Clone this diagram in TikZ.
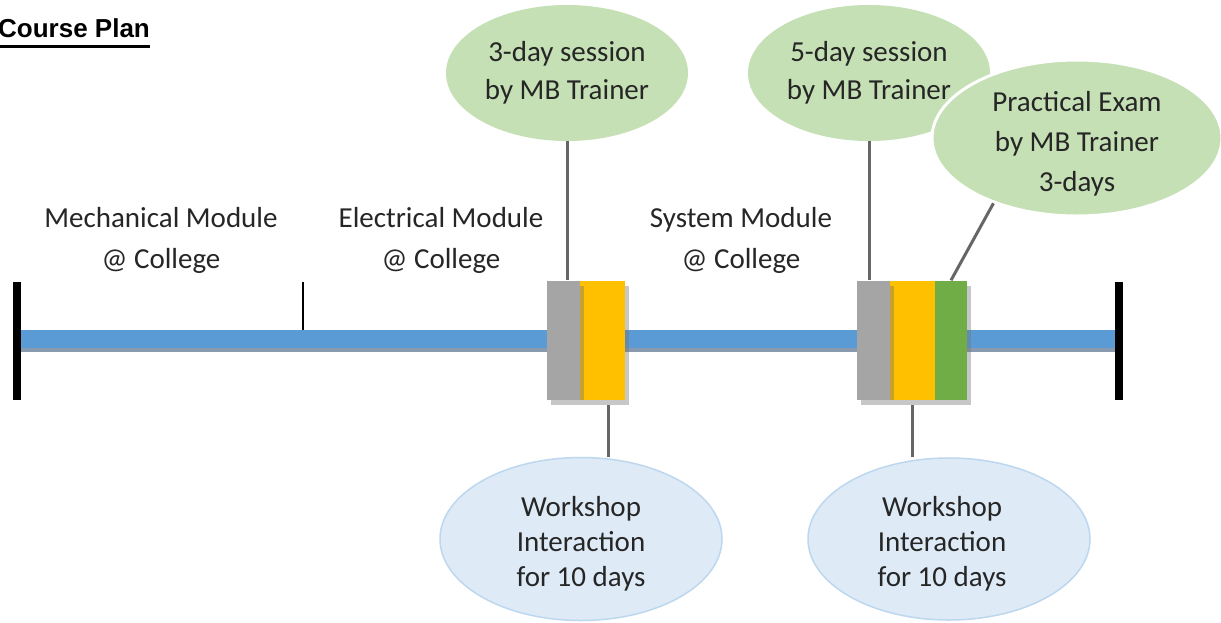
\documentclass[tikz,border=0pt]{standalone}
\usepackage{fontspec}
\setmainfont{Carlito}
\newfontfamily\titlefont{Liberation Sans}
\usetikzlibrary{shapes.geometric,shadows,calc}
\definecolor{txt}{HTML}{262626}
\definecolor{barblue}{HTML}{5B9BD5}
\definecolor{barshade}{HTML}{8A9AAE}
\definecolor{greyc}{HTML}{A5A5A5}
\definecolor{yellowc}{HTML}{FFC000}
\definecolor{greenc}{HTML}{70AD47}
\definecolor{ellgreen}{HTML}{C5E0B4}
\definecolor{ellblue}{HTML}{DEEBF7}
\definecolor{ellblueedge}{HTML}{BDD7EE}
\definecolor{connc}{HTML}{666666}
\tikzset{
  blockbox/.style={draw=none, inner sep=0pt, minimum height=119pt,
    drop shadow={shadow xshift=4pt, shadow yshift=-5pt, opacity=0.4, fill=black!55}},
  greenell/.style={ellipse, fill=ellgreen, inner sep=0pt, align=center,
    font=\fontsize{29}{38}\selectfont},
  blueell/.style={ellipse, fill=ellblue, draw=ellblueedge, line width=1.5pt, inner sep=0pt},
  elltext/.style={align=center, inner sep=0pt, font=\fontsize{29}{35}\selectfont},
  modlabel/.style={align=center, inner sep=0pt, font=\fontsize{29}{41}\selectfont},
  conn/.style={draw=connc, line width=3pt},
  endbar/.style={fill=black, draw=none, inner sep=0pt, minimum width=8pt, minimum height=118pt}
}
\begin{document}
\begin{tikzpicture}[x=1pt, y=-1pt, text=txt]
\useasboundingbox (0,0) rectangle (1221,622);
\fill[white] (0,0) rectangle (1221,622);

% title
\node[anchor=base west, inner sep=0pt, text=black,
  font=\titlefont\bfseries\fontsize{26}{30}\selectfont] (title) at (-2,37) {Course Plan};
\draw[line width=3pt] ($(title.base west)+(0,9)$) -- ($(title.base east)+(0,9)$);

% timeline bar
\fill[barshade] (20,334) rectangle (1116,352);
\fill[barblue] (20,330) rectangle (1116,348);
\node[endbar] (lend) at (17,341) {};
\node[endbar] (rend) at (1119,341) {};
\coordinate (tickbot) at (303,330);
\coordinate (ticktop) at (303,282);
\draw[line width=1.5pt] (tickbot) -- (ticktop);

% module labels
\node[modlabel] (m1) at (161,240) {Mechanical Module\\@ College};
\node[modlabel] (m2) at (441,240) {Electrical Module\\@ College};
\node[modlabel] (m3) at (741,240) {System Module\\@ College};

% block 1
\node[blockbox, fill=yellowc, minimum width=45pt] (y1) at (602.5,340) {};
\node[blockbox, fill=greyc, minimum width=33pt] (g1) at (563.5,340) {};

% block 2
\node[blockbox, fill=yellowc, minimum width=45pt] (y2) at (912.5,340) {};
\node[blockbox, fill=greenc, minimum width=32pt] (gr2) at (951,340) {};
\node[blockbox, fill=greyc, minimum width=33pt] (g2) at (873.5,340) {};

% top ellipses
\node[greenell, minimum width=242pt, minimum height=136pt] (e3) at (567,73)
  {3-day session\\by MB Trainer};
\node[greenell, minimum width=242pt, minimum height=136pt] (e5) at (869,73)
  {5-day session\\by MB Trainer};
\node[greenell, draw=white, line width=3pt, minimum width=290pt, minimum height=156pt,
  label={[elltext, font=\fontsize{29}{40}\selectfont, yshift=-6pt]center:{Practical Exam\\by MB Trainer\\3-days}}]
  (pe) at (1077,138) {};

% bottom ellipses
\node[blueell, minimum width=282pt, minimum height=163pt,
  label={[elltext, yshift=-5pt]center:{Workshop\\Interaction\\for 10 days}}] (w1) at (581,539) {};
\node[blueell, minimum width=282pt, minimum height=162pt,
  label={[elltext, xshift=-7pt, yshift=-5pt]center:{Workshop\\Interaction\\for 10 days}}] (w2) at (949,539) {};

% connectors
\draw[conn] (e3.south) -- (e3.south |- g1.north);
\draw[conn] (e5.south) -- (e5.south |- g2.north);
\coordinate (b1) at (608,405);
\coordinate (b2) at (912,405);
\draw[conn] (b1) -- (b1 |- w1.north);
\draw[conn] (b2) -- (b2 |- w2.north);
\draw[conn] (gr2.north) -- (pe.218);
\end{tikzpicture}
\end{document}
